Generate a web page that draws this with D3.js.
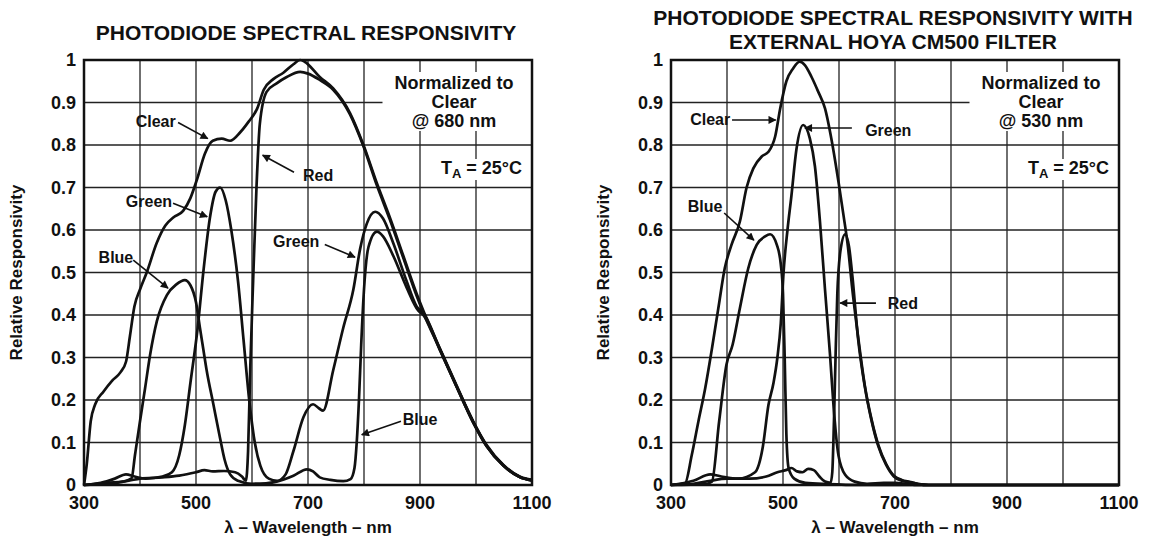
<!DOCTYPE html>
<html lang="en">
<head>
<meta charset="UTF-8">
<title>Photodiode Spectral Responsivity</title>
<style>
  body { margin: 0; background: #fff; }
  svg text { font-family: "Liberation Sans", Arial, sans-serif; font-weight: bold; fill: #111; }
</style>
</head>
<body>
<svg id="chart" width="1150" height="539"></svg>
<script src="https://cdnjs.cloudflare.com/ajax/libs/d3/7.8.5/d3.min.js"></script>
<script>
// axis ticks
var xGrid = [300, 400, 500, 600, 700, 800, 900, 1000, 1100];
var xLabels = [300, 500, 700, 900, 1100];
var yTicks = [0, 0.1, 0.2, 0.3, 0.4, 0.5, 0.6, 0.7, 0.8, 0.9, 1];

// left chart: bare photodiode, [wavelength nm, relative responsivity]
var clearA = [[300,0],[305,0.05],[312,0.15],[320,0.19],[335,0.22],[350,0.245],[365,0.265],[375,0.29],[382,0.35],[390,0.42],[400,0.46],[412,0.5],[430,0.57],[445,0.61],[460,0.63],[477,0.645],[490,0.675],[502,0.72],[516,0.78],[530,0.81],[546,0.815],[561,0.81],[579,0.83],[594,0.855],[609,0.885],[621,0.93],[638,0.955],[656,0.97],[674,0.99],[686,1.0],[694,0.996],[721,0.96],[745,0.933],[775,0.875],[799,0.8],[823,0.71],[846,0.63],[870,0.54],[894,0.45],[906,0.41],[936,0.32],[965,0.235],[995,0.15],[1019,0.094],[1049,0.047],[1078,0.02],[1100,0.012]];
var redA = [[300,0],[340,0.005],[380,0.01],[400,0.015],[440,0.018],[470,0.022],[500,0.03],[515,0.035],[530,0.032],[550,0.033],[570,0.03],[582,0.02],[589,0.01],[593,0.08],[597,0.28],[602,0.48],[608,0.7],[614,0.85],[626,0.925],[644,0.945],[662,0.96],[686,0.972],[700,0.968],[721,0.953],[745,0.93],[775,0.872],[799,0.797],[823,0.705],[846,0.625],[870,0.535],[894,0.445],[906,0.405],[936,0.318],[965,0.233],[995,0.148],[1019,0.092],[1049,0.046],[1078,0.019],[1100,0.011]];
var greenA = [[300,0],[330,0.005],[355,0.015],[375,0.025],[390,0.02],[410,0.015],[440,0.02],[457,0.03],[470,0.07],[480,0.14],[490,0.24],[503,0.37],[513,0.5],[525,0.63],[535,0.69],[543,0.7],[553,0.67],[563,0.6],[575,0.48],[585,0.34],[595,0.2],[605,0.1],[615,0.045],[630,0.015],[645,0.01],[660,0.025],[674,0.08],[692,0.16],[709,0.19],[720,0.18],[727,0.175],[745,0.27],[763,0.37],[781,0.46],[793,0.555],[805,0.615],[820,0.643],[834,0.627],[852,0.57],[876,0.48],[894,0.42],[906,0.405],[936,0.318],[965,0.233],[995,0.148],[1019,0.092],[1049,0.046],[1078,0.019],[1100,0.011]];
var blueA = [[300,0],[340,0.003],[370,0.008],[385,0.016],[391,0.07],[400,0.15],[409,0.227],[418,0.306],[430,0.385],[448,0.447],[465,0.472],[480,0.482],[490,0.47],[500,0.43],[507,0.37],[513,0.32],[519,0.27],[531,0.19],[543,0.11],[551,0.06],[561,0.025],[575,0.01],[600,0.003],[625,0.004],[644,0.008],[674,0.022],[698,0.037],[709,0.032],[721,0.018],[740,0.012],[763,0.009],[776,0.014],[783,0.04],[787,0.1],[791,0.2],[795,0.33],[800,0.46],[808,0.56],[823,0.596],[834,0.585],[852,0.54],[876,0.465],[897,0.41],[906,0.4],[936,0.316],[965,0.232],[995,0.147],[1019,0.091],[1049,0.045],[1078,0.019],[1100,0.011]];

// right chart: with external HOYA CM500 filter
var clearB = [[300,0],[325,0.004],[337,0.07],[349,0.15],[361,0.227],[373,0.32],[385,0.42],[396,0.51],[408,0.565],[423,0.62],[435,0.7],[447,0.745],[462,0.773],[474,0.784],[486,0.82],[495,0.886],[506,0.95],[518,0.98],[530,0.996],[539,0.988],[551,0.96],[563,0.925],[575,0.886],[587,0.81],[599,0.714],[608,0.635],[616,0.56],[623,0.47],[634,0.35],[646,0.235],[658,0.155],[670,0.095],[684,0.05],[698,0.022],[712,0.012],[728,0.007],[742,0.002],[760,0],[1100,0]];
var redB = [[300,0],[340,0.003],[370,0.01],[400,0.015],[440,0.015],[470,0.02],[490,0.03],[505,0.035],[515,0.04],[525,0.032],[535,0.03],[545,0.038],[555,0.035],[565,0.02],[575,0.008],[585,0.005],[588,0.03],[591,0.15],[594,0.31],[597,0.45],[603,0.555],[611,0.59],[618,0.56],[624,0.49],[634,0.345],[646,0.232],[658,0.152],[670,0.092],[684,0.048],[698,0.02],[712,0.01],[728,0.006],[742,0.002],[760,0],[1100,0]];
var greenB = [[300,0],[340,0.01],[370,0.025],[390,0.02],[420,0.015],[450,0.03],[464,0.09],[474,0.188],[483,0.24],[490,0.3],[496,0.38],[501,0.5],[508,0.6],[515,0.68],[524,0.79],[536,0.847],[548,0.815],[557,0.75],[566,0.62],[575,0.46],[584,0.306],[590,0.19],[599,0.07],[611,0.024],[628,0.008],[650,0.003],[680,0.005],[700,0.005],[720,0.003],[740,0],[1100,0]];
var blueB = [[300,0],[360,0.002],[373,0.008],[386,0.15],[399,0.283],[410,0.33],[423,0.416],[438,0.51],[453,0.565],[468,0.585],[477,0.59],[489,0.565],[496,0.52],[500,0.45],[503,0.3],[506,0.12],[510,0.04],[520,0.015],[540,0.005],[580,0.002],[640,0],[1100,0]];

var panels = [
  { x0: 84,  x1: 532,  titles: ["PHOTODIODE SPECTRAL RESPONSIVITY"], titleY: [40],
    series: [clearA, redA, greenA, blueA], norm: "@ 680 nm",
    notes: [
      { text: "Clear", at: [428, 0.855], from: [468, 0.853], to: [521, 0.815] },
      { text: "Green", at: [416, 0.665], from: [459, 0.663], to: [520, 0.631] },
      { text: "Red",   at: [718, 0.728], from: [675, 0.736], to: [619, 0.776] },
      { text: "Blue",  at: [357, 0.535], from: [388, 0.529], to: [450, 0.463] },
      { text: "Green", at: [679, 0.571], from: [730, 0.566], to: [784, 0.536] },
      { text: "Blue",  at: [900, 0.154], from: [866, 0.15],  to: [796, 0.118] }
    ] },
  { x0: 671, x1: 1119, titles: ["PHOTODIODE SPECTRAL RESPONSIVITY WITH", "EXTERNAL HOYA CM500 FILTER"], titleY: [25, 49],
    series: [clearB, redB, greenB, blueB], norm: "@ 530 nm",
    notes: [
      { text: "Clear", at: [370, 0.858], from: [409, 0.859], to: [487, 0.859] },
      { text: "Green", at: [688, 0.834], from: [623, 0.84],  to: [539, 0.84] },
      { text: "Blue",  at: [361, 0.653], from: [395, 0.64],  to: [448, 0.576] },
      { text: "Red",   at: [714, 0.427], from: [666, 0.428], to: [602, 0.428] }
    ] }
];

var svg = d3.select("#chart");
var plotTop = 60, plotBottom = 485;

svg.append("defs").append("marker")
    .attr("id", "head")
    .attr("viewBox", "0 0 10 10")
    .attr("refX", 9).attr("refY", 5)
    .attr("markerWidth", 10).attr("markerHeight", 8)
    .attr("markerUnits", "userSpaceOnUse")
    .attr("orient", "auto")
  .append("path")
    .attr("d", "M0,0 L10,5 L0,10 Z")
    .attr("fill", "#111");

panels.forEach(function (p) {
  var x = d3.scaleLinear().domain([300, 1100]).range([p.x0, p.x1]);
  var y = d3.scaleLinear().domain([0, 1]).range([plotBottom, plotTop]);
  var g = svg.append("g");

  // grid
  g.selectAll(".vg").data(xGrid).enter().append("line")
    .attr("x1", function (d) { return x(d); }).attr("x2", function (d) { return x(d); })
    .attr("y1", plotTop).attr("y2", plotBottom)
    .attr("stroke", "#222").attr("stroke-width", 1.3);
  g.selectAll(".hg").data(yTicks).enter().append("line")
    .attr("x1", p.x0).attr("x2", p.x1)
    .attr("y1", function (d) { return y(d); }).attr("y2", function (d) { return y(d); })
    .attr("stroke", "#222").attr("stroke-width", 1.3);

  // normalisation note, on a white box that hides the grid
  var cx = x(1100) - 78;
  var note = g.append("g");
  var box = note.append("rect").attr("fill", "#fff");
  var lines = ["Normalized to", "Clear", p.norm].map(function (t, i) {
    return note.append("text").attr("x", cx).attr("y", 89 + i * 19)
      .attr("text-anchor", "middle").style("font-size", "18px").text(t);
  });
  var b0 = lines[0].node().getBBox(), b2 = lines[2].node().getBBox();
  box.attr("x", b0.x - 12).attr("y", b0.y - 1)
    .attr("width", p.x1 - 1 - (b0.x - 12))
    .attr("height", b2.y + b2.height - b0.y + 1);

  var taBox = note.append("rect").attr("fill", "#fff");
  var ta = note.append("text").attr("x", x(1100) - 10).attr("y", 174)
      .attr("text-anchor", "end").style("font-size", "18px");
  ta.append("tspan").text("T");
  ta.append("tspan").attr("dy", 4).style("font-size", "13px").text("A");
  ta.append("tspan").attr("dy", -4).text(" = 25\u00b0C");
  var bt = ta.node().getBBox();
  taBox.attr("x", bt.x - 3).attr("y", bt.y + 1).attr("width", bt.width + 6).attr("height", bt.height - 2);

  // curves
  var line = d3.line()
    .x(function (d) { return x(d[0]); })
    .y(function (d) { return y(d[1]); })
    .curve(d3.curveMonotoneX);
  g.selectAll(".curve").data(p.series).enter().append("path")
    .attr("d", line)
    .attr("fill", "none").attr("stroke", "#111")
    .attr("stroke-width", 2.7).attr("stroke-linejoin", "round");

  // border
  g.append("rect").attr("x", p.x0).attr("y", plotTop)
    .attr("width", p.x1 - p.x0).attr("height", plotBottom - plotTop)
    .attr("fill", "none").attr("stroke", "#111").attr("stroke-width", 2.5);

  // curve labels and arrows
  p.notes.forEach(function (n) {
    g.append("line")
      .attr("x1", x(n.from[0])).attr("y1", y(n.from[1]))
      .attr("x2", x(n.to[0])).attr("y2", y(n.to[1]))
      .attr("stroke", "#111").attr("stroke-width", 1.6)
      .attr("marker-end", "url(#head)");
    g.append("text").attr("x", x(n.at[0])).attr("y", y(n.at[1]) + 5)
      .attr("text-anchor", "middle").style("font-size", "16px").text(n.text);
  });

  // axis labels
  g.selectAll(".xl").data(xLabels).enter().append("text")
    .attr("x", function (d) { return x(d); }).attr("y", 509)
    .attr("text-anchor", "middle").style("font-size", "18px")
    .text(function (d) { return d; });
  g.selectAll(".yl").data(yTicks).enter().append("text")
    .attr("x", p.x0 - 8).attr("y", function (d) { return y(d) + 6; })
    .attr("text-anchor", "end").style("font-size", "18px")
    .text(function (d) { return d3.format("~g")(d); });

  g.append("text").attr("x", (p.x0 + p.x1) / 2).attr("y", 533)
    .attr("text-anchor", "middle").style("font-size", "17px")
    .text("\u03bb \u2013 Wavelength \u2013 nm");
  g.append("text")
    .attr("transform", "translate(" + (p.x0 - 62) + "," + (plotTop + plotBottom) / 2 + ") rotate(-90)")
    .attr("text-anchor", "middle").style("font-size", "17px")
    .text("Relative Responsivity");

  p.titles.forEach(function (t, i) {
    g.append("text").attr("x", (p.x0 + p.x1) / 2 - 2).attr("y", p.titleY[i])
      .attr("text-anchor", "middle").style("font-size", "21px").text(t);
  });
});
</script>
</body>
</html>
